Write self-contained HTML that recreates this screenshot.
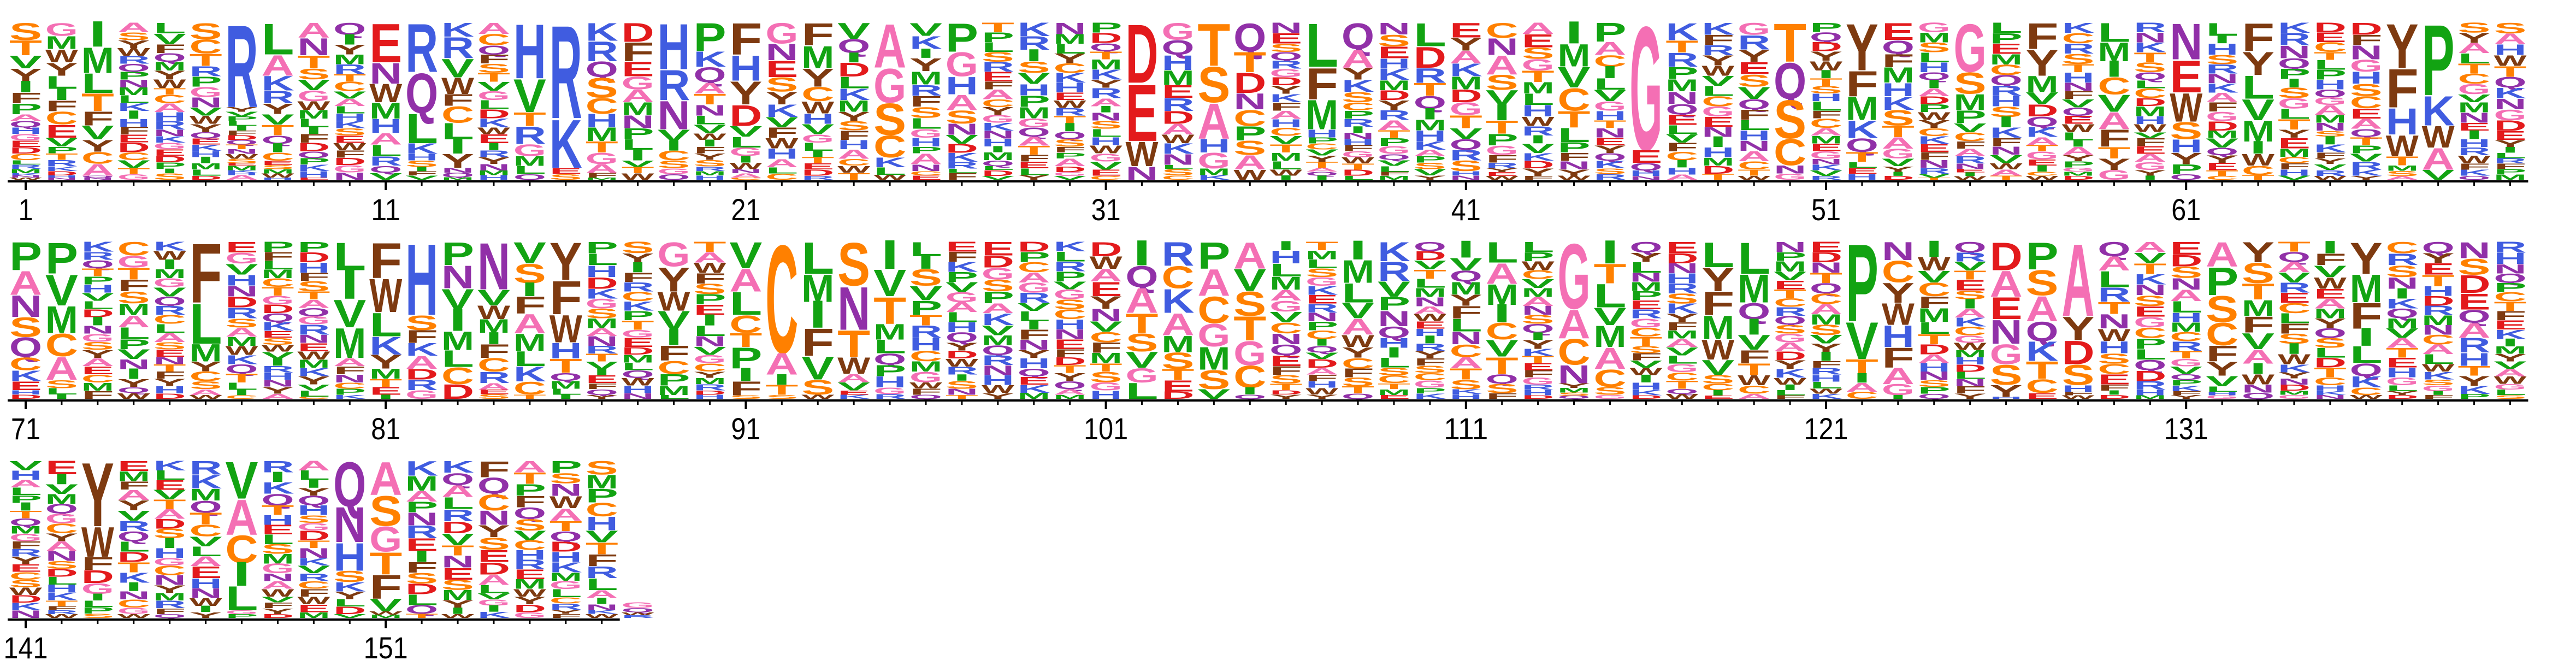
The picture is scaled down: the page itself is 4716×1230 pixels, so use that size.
<!DOCTYPE html>
<html>
<head>
<meta charset="utf-8">
<style>
html,body{margin:0;padding:0;background:#fff;}
svg{display:block;}
text{font-family:"Liberation Sans",Arial,sans-serif;}
</style>
</head>
<body>
<svg id="logo" xmlns="http://www.w3.org/2000/svg" width="4716" height="1230" viewBox="0 0 4716 1230">
<rect x="0" y="0" width="4716" height="1230" fill="#fff"/>
<g id="letters"></g>
<g id="axes"></g>
</svg>
<script>
// Letter stacks per position, top to bottom, letter + relative weight
const columns = [
"S8T7V6Y6I5F5P5A3Q3H3G3E3D3C3L2R2M2K1N1W1",
"G6M6W6Y6L6I5F5C6E6V4P3T3R3K2D2H1N1",
"I12M13L10T9F7V7Y6C6A6Q1N1",
"A5S4Y4W4R4Q4P4N4M4L4K4I4H4F4E4D5C4V4T3G3",
"L5V5F4Q4M4Y4W4T3C4A4H4R4N3K3G3E3D3P3I2S3",
"S8C7T6R5P5G5N5V4W4Y4Q3E3K3H3I3M3L3D2",
"R36Y2V2P2L2I2F2D2Q2T2N2W2S2E1M2K1H1A2",
"L15A10K7R6Y5V5T5Q4I4C4E2S2M2W2H1",
"A7N8T6S5V5G5W4M4L4I3F4D4Q3P3K3H3E1",
"Q5I4Y4M4R4T3C4V3A3L3H3K3S3E3W3F3D3G3N3",
"E17N9W8M7H6A5L5R4Q3V3",
"R23Q19L14K5H3S3I2F2V2",
"K6R9V8W7F5C7L7I6Y6N2Q2M1",
"A5C5Q4F4S4T4V4G4L4D4K4W3E4I3R3Y3N3M2H2",
"H28V17T7R9G6M5L4Q3",
"R48K25E3S3",
"K8R9Q7S9C7H6M6T5G5A4F2M1",
"D9F9E7G6A6M6N6P5L5I5V3T3W3",
"H24R16N15V6I5C5S4G3Q3",
"P13K7Q7A5T5N5L4V4W3I3F3Y3S3R2M2H2",
"F15H12Y11D10V5L5G4I3W3N2A2C1",
"G10N8E8S7Y6K6V5F5W5H5A4L3C3",
"F11M11Y9C7W6H5V5G4L4I3T3E3D3R2",
"V7Q6I4D6L5K5M5Y4S4F4H4A4C3W3T3",
"A18G14S13C9K4L3W2",
"V6K6I4Y6M6R5F5S5L5G4H4P3A5N3C2E2",
"P13G11H8A7S6N5V4D4K4R3L2F3",
"T5P5L5S5R5E5F4A5C4Y4G4K4N4H4I3M4Q3L2D3V2",
"K6R6I5S5V5H5P5M5G4Q4A4T4F3E3L3Y2",
"N6M5L5Y5C5K5H5E4W4R4T4I4Q4S4F3P3A4D3G2V2",
"P5D5Q4T4M5K5Y4R5A4I3N4S4L4H4W4G4V4E3C2",
"D31E30W13N7",
"G8Q7H7M7E6R6D6A5W4K5N5L2S3C2",
"T19S16A16H6G7M3K2",
"Q14T10D10N8C8P7S7A7W5",
"N5E5S4Q4R4G4D4Y4K4F4A4H4C4V4T4M4L4W3I2",
"L22F16M15H4P3C3V3Y3T3A2Q2I2",
"Q13A9Y6K6S5C4P4R4I3N3H3F3G3W3T3D3L2",
"N6S6E6H5K6M5D5Y5R5A5T4P4G4Q3V3L3F2M2",
"L11D10R7T6Q6I5M5H5K4A3P3S3V3Y2",
"E7Y6A6K6M6D6G6T6V5Q5R5S5H2N2",
"C8N9A10S8V8I8T7P6G5F4R3Y2E2W2",
"A6E7S6G6T6M6L6H6W5R5I4V5K4D4Y4F2",
"I10M11V10C11T8L7P5F4N4Y3W2",
"P10A7C6I6L6V6G5H5T4N5E4Y4Q4K4S3R3",
"G68E7Q4H3N2",
"K10T7R8P7M7N7Q6E6L5V5F5C5I4H4A3",
"K6F5R5Y5W5V5L5C5G5E5N5I5H5M4D4T3",
"G6R7Y6E6S6V6Q5F5L5H5N5A5C4T3W2",
"T19Q18S19C13N4G3",
"P5Q5D5Y5W5I4T4S4H4L5F4C5A4M4E4G4N3K3V3R2",
"Y24F13M12K9Q7T5L3E3H3",
"E9Q7F7M8H7K7S8T6A6G5V4Y3I2D2",
"G5M5S5L5H5Q4I4A4D4P4W4Y4C4K4E4F4N4R3V2T1",
"G27S12M9P7V5C5F4A4R4N3E2I2W2",
"L5P5E5M5C5Q5R5H5S5I5K5F4N4V4W3A3T2",
"F13Y13M8V6D6Q5K5A4T3G4E3I3C2W2",
"K5C5R5S5T4H5N4F4V4Q4E4W4L4I3A4Y3P3G2M2D2",
"L10M10I8C9V9A9F9T6Y6G5",
"R5N5K5T5S5Q4L4C5D4M5H4W4V3F4E4A4G4Y3I2",
"N19E17W15S9H7Y6P5Q3",
"L7I4H6S5R5N5K5A5F5G5D5M4V5Q4Y4E4T3C2",
"F12Y10L10V9M9I5W5C4T2",
"K5R6N6Q5P5I4S5G5L5T5Y4E5M4C3F3H3V2",
"D5E5C5T4L5P5H5Q4G4A5M4N4S3I4K4F3Y3V3R3W2",
"D6F5N7G6H6S6C6E5A5Q4T4P4V4R4K3Y2",
"Y25F22H15W12T5M3S3A2",
"P36K15W11A11V5",
"S5Y5A5L5T5C5G5V4M5N5E4I4H4R4W4F3K3Q2",
"S6A6H6W6T6Q6K6N6G6D6E5Y4I3L3R3F3P3M3",
"P13A11N10S9Q9C6K5E4H2D2",
"P15V15M13C11A11S4L3I2",
"K5R4Q4T4P4H4V4L4D4I4N4G4S4Y4A4E4C4M4F4",
"C7G6T6F6S6M6A6L6P5V5N5I5Y4Q3W3",
"K5W5I5M5G5V5Q5R5C5L5A5S4E4N4T4F4Y4H4D3",
"F31L21M9Y5C5S4A3W2",
"E6G6V6H6N6D6R6S5A5M5W5K5Q5T5L4I3C2",
"P6F5L5M5C5T5G5D5Q5K5E4S4W4V4I4R4H4N4Y4A3",
"P5D5H5F4S5T4A4Q4G4R5N4E4W4M4K4Y4V3L3C1",
"L14I14V14M15A4F4N4C3P3K2",
"F18W17L12K9Y7M5T4E4I2",
"H34S7F6K6A6D5R5G4",
"P11N11V10I10M9L8C8D7",
"N21V7W6M6I5F6C6R5A3E2S2",
"V10S9I6F8A9M8L7K7C6T2",
"Y19F17W14H8T7Q4M4L3I2",
"P6L6H6D6K5G5S5M5A4N5R4T4V4I3E4F3Q3Y2",
"S6Y5I5F5R5C5K5P5T5G4E5D4M4L4Q4W4H4N3",
"G13Y13W10V10I8F8C7P6M5L2",
"T5A5W5F5S5P5E5I5L5N5V4G4C4Y3M3R3D2H2",
"V15A13L13C10T8P12I7F8S2",
"C55A11I5T5S2",
"L15M13I12F13V11S7W2",
"S21N21T13W8A4V4E2K2",
"I12V12T12M7L6Q5P5H5G3R2",
"L7I6S8V7P7T5R6H6C5M5G5W3F3Q2",
"E5F5K5P5V5G5A5L5H5Q5Y4D4W4R4I3S4N3T2",
"E7D6G6S6P6A5K6V5M5Q5R5N5H5W4Y3",
"D5P5C5A5G5R5V4L5I4F5N5Y4H5Q4E4K4M3",
"K5L5R5P5V4G5S5C5H5N5E5F4D4T4Y4Q4A3M2",
"D7W6A6E7Y6N6V5C5F5M5T4S5G4H4",
"I13Q12A14T11S10V9G8L9",
"R13C12K13A12M9S9T6E6D4",
"P14A14C14G12M12S10V5",
"A12V10S11T11G11C10I3Q2",
"I4H6L6M6A5G5V5C5N5Q5E5F4S4T3D2Y2",
"T4M4L4S4G4K4E4R4N4P4C4I3Q3V3D4A3F3H3W3Y2",
"I10M13L11V9A9W7Y6C6F5S5T4Q3",
"K10R10V8P7N8Q6H5I5L5S4C4T3M3E2",
"Q5D5V5T5L5M5N5A4W4E4H4I4R4Y4F4S4C4G4P3K3",
"I10V8Q7M8Y7F8L8N8C8A7T7S6K3H3",
"L11A11M11I9C9V9T9Q5S5F3",
"L6P5W5C5V5M5A5N5S5Q5I4Y5K4T4E4F4G4R3H3D2",
"G43A19C17N12Y3M3S2Q2",
"I11T10L12V9M11A11C9S4G2",
"Q6Y5L6N5M5P5E5R5G5C5T5S4F4V4W4I4H4K3D2",
"E7D6N6H6R6S6K6Y5F5M5A5V5L5G5C5T5Q3W3",
"L15Y14F14M14W12V9S5C4I3E2",
"L19M17Q10I9V9F8T7W6C5A3",
"N6P5M6V5E5T5C5R5Q5S5G5A5D5Y5K5W4I3L3F2",
"E6D6N6T6Q6C6A6M6S6V5Y5I5F4R4H4L4W3K3",
"P44V21T8I5A5C4",
"N10C12Y11W12H12F11A9G6I2",
"I9W8V7C8F7M8L7T6D6A5H5N5S4P4Q3",
"Q6R5V5T5E6S5I5A5K5C5G4W4M4H4D4L4N4F4Y3",
"D14A13E11N12G10S10Y6H1",
"P14S13A13Q10K10T9C7E3",
"A43Y14D14S12H4F2W2",
"Q7A7L8R7T6N7W6H6S5C5E5F3I2D2",
"A6V6T6K6N6S6E6G6C6P6L6Q6D6R5H3M2",
"E7D6S6N6A6L6H5M5C5R5T4G4V4Q3P3K3F2Y2",
"A14P16S15C13F9Y8V6L3H2G2",
"Y10S10T8M8F8V8A7I5W5N4Q3",
"T5Q5A5V5R5E5C5L5F5S5I5W5K4Y3N3D3M2G2",
"I6F6V6W6E5A5M5Y5Q5S5L5D5T5C4H3K2N2",
"Y17M15F14I9L9Q7K6C4W2",
"C6R6S6N6I5K5Q5M5V5A5T5E5H5G4L3Y2D2",
"Q6Y5E6T6H5D5R5M5N5C5A5L5W4K4S3G3I2F2",
"N10S10D11E10Q8A9R9H8T6Y6K5P3",
"R6H6N5Q5P5C5T5F5E5K5I4M4Y4V4A4W4G3L3S2",
"V5H5A4L4P4I4T4Q4M4G4F4R4Y4E4C4S4W4D4K4N4",
"E7I5V5M5Q5G5C5Y4A5N5S4D4L4H4K4T3F2R2W2",
"Y30W14F6D6G5I3L3P3S2",
"E5M5F4A5Y5V5R5Q5L5D5T5K5I4N4C4G3W2",
"K5L5E5V5T5A5D5S5I5H5G4C5N5Y4M4R4F3Q2",
"R7K7M6Q6T6C6V5L5A5E6H5N5W4I3Y3",
"V20A19C15I12L13G2P2",
"R6I5K6Q6T5H5E5L5S5M5G5N4A4W4V3F3Y3D2",
"A5L5I4Y4Q5H5S4G4D5T4N5K4V4R4C4F4W4E4M3",
"Q24N19H15S6K5Y4L4D4V2",
"A21S19G16T14F15V8W2M2",
"K7M7A5P5N6R6E6I5F5S5D5L5Q4T2",
"K6Q6A6L6R6D6V6T5N6E6S5M5Y4I3W2",
"F8Q8C8N7Y6S6E6D6A5L4V3G3I3K3",
"A6T6P6F6Q6S6V5C5H5R5E5M5W4Y4D4G3",
"P6S5N6W6A6T5Q5D5H5K5M4G4L4C3R3Y2F2",
"S7M7P7C7H7V6T6F6R6L6A4I3N3K2W2",
"G4Q3W2R2"
];
// Fraction of full stack height for columns that are not full (position -> fraction)
const partialColumns = {158: 0.1};
const tickLabels = [1, 11, 21, 31, 41, 51, 61, 71, 81, 91, 101, 111, 121, 131, 141, 151];
const rowLastPosition = [70, 140, 157];

const NS = 'http://www.w3.org/2000/svg';
const PER_ROW = 70, X0 = 47, STEP = 65.92, LETTER_W = 60, STACK_H = 288;
const AXIS_Y = [332, 733, 1134];
const COLORS = {
  A:'#f46fb4', G:'#f46fb4',
  C:'#ff8000', S:'#ff8000', T:'#ff8000',
  V:'#12a312', I:'#12a312', L:'#12a312', M:'#12a312', P:'#12a312',
  R:'#405ce0', K:'#405ce0', H:'#405ce0',
  D:'#e31a1c', E:'#e31a1c',
  Q:'#9130a8', N:'#9130a8',
  F:'#7e3a10', Y:'#7e3a10', W:'#7e3a10'
};
function rowOf(pos){ return Math.floor((pos-1)/PER_ROW); }
function xCenter(pos){ return X0 + ((pos-1)%PER_ROW)*STEP; }

const gL = document.getElementById('letters');
columns.forEach((s, i) => {
  const pos = i + 1;
  const parts = [...s.matchAll(/([A-Z])(\d+)/g)].map(m => [m[1], +m[2]]);
  const sum = parts.reduce((a, p) => a + p[1], 0);
  const frac = partialColumns[pos] || 1;
  const total = STACK_H * frac;
  const bottom = AXIS_Y[rowOf(pos)] - 3;
  let y = bottom - total;
  const g = document.createElementNS(NS, 'g');
  
  
  const xc = xCenter(pos);
  const x0 = xc - LETTER_W/2;
  parts.forEach(([ch, w]) => {
    const h = w / sum * total;
    if (h >= 0.8) {
      const t = document.createElementNS(NS, 'text');
      
      
      t.setAttribute('x', 0);
      t.setAttribute('y', 0);
      t.setAttribute('font-size', 100);
      t.setAttribute('fill', COLORS[ch] || '#000');
      if (ch === 'I') {
        t.setAttribute('font-family', '"Liberation Serif", serif');
        t.setAttribute('text-anchor', 'middle');
        t.setAttribute('transform', 'translate(' + xc.toFixed(2) + ',' + (y + h).toFixed(2) + ') scale(1.8,' + (h/66).toFixed(4) + ')');
      } else {
        t.setAttribute('font-weight', 'bold');
        t.setAttribute('textLength', LETTER_W);
        t.setAttribute('lengthAdjust', 'spacingAndGlyphs');
        t.setAttribute('transform', 'translate(' + x0.toFixed(2) + ',' + (y + h).toFixed(2) + ') scale(1,' + (h/72).toFixed(4) + ')');
      }
      t.textContent = ch;
      g.appendChild(t);
    }
    y += h;
  });
  gL.appendChild(g);
});

const gA = document.getElementById('axes');
rowLastPosition.forEach((last, r) => {
  const first = r*PER_ROW + 1;
  const ay = AXIS_Y[r];
  const line = document.createElementNS(NS, 'rect');
  
  
  line.setAttribute('x', 14);
  line.setAttribute('y', ay - 2);
  line.setAttribute('width', xCenter(last) + STEP/2 - 14);
  line.setAttribute('height', 4);
  line.setAttribute('fill', '#000');
  gA.appendChild(line);
  for (let p = first; p <= last; p++) {
    const major = tickLabels.includes(p);
    const tk = document.createElementNS(NS, 'rect');
    
    
    tk.setAttribute('x', xCenter(p) - (major ? 2 : 1.5));
    tk.setAttribute('y', ay);
    tk.setAttribute('width', major ? 4 : 3);
    tk.setAttribute('height', major ? 16 : 8);
    tk.setAttribute('fill', '#000');
    gA.appendChild(tk);
  }
});
tickLabels.forEach(v => {
  const t = document.createElementNS(NS, 'text');
  
  
  t.setAttribute('x', xCenter(v));
  t.setAttribute('y', AXIS_Y[rowOf(v)] + 71);
  t.setAttribute('font-size', 56);
  t.setAttribute('text-anchor', 'middle');
  t.setAttribute('textLength', String(v).length * 27);
  t.setAttribute('lengthAdjust', 'spacingAndGlyphs');
  t.setAttribute('fill', '#000');
  t.textContent = String(v);
  gA.appendChild(t);
});
</script>
</body>
</html>
